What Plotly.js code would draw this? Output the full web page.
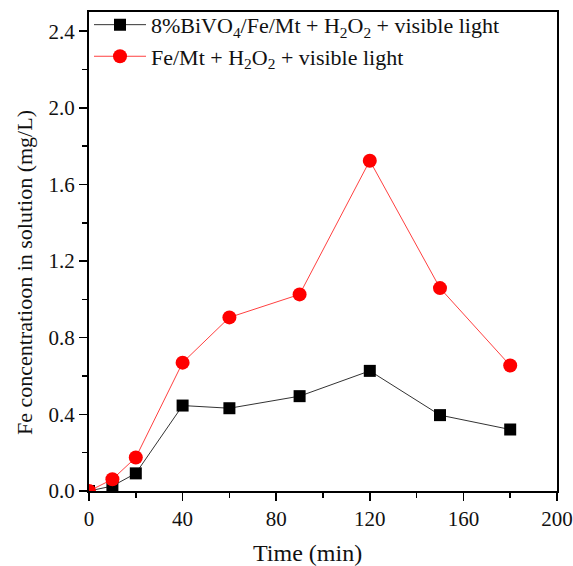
<!DOCTYPE html>
<html>
<head>
<meta charset="utf-8">
<script src="https://cdn.plot.ly/plotly-3.0.1.min.js"></script>
<style>html,body{margin:0;padding:0;background:#fff;}#chart{width:573px;height:566px;}</style>
</head>
<body>
<div id="chart"></div>
<script>
const timeMin = [0, 10, 20, 40, 60, 90, 120, 150, 180];
const bivoFe = [0.0, 0.026, 0.092, 0.446, 0.432, 0.495, 0.627, 0.396, 0.321];
const feMt = [0.0, 0.061, 0.175, 0.670, 0.906, 1.026, 1.724, 1.059, 0.655];
const seriesNames = [
  "8%BiVO<sub>4</sub>/Fe/Mt + H<sub>2</sub>O<sub>2</sub> + visible light",
  "Fe/Mt + H<sub>2</sub>O<sub>2</sub> + visible light"
];
const xTicks = [0, 40, 80, 120, 160, 200];
const yTicks = [0.0, 0.4, 0.8, 1.2, 1.6, 2.0, 2.4];
const xTitle = 'Time (min)';
const yTitle = 'Fe concentratioon in solution (mg/L)';

const font = "Liberation Serif, Times New Roman, serif";
const traces = [
  {x: timeMin, y: bivoFe, name: seriesNames[0], mode: 'lines+markers', cliponaxis: true,
   line: {color: '#333333', width: 1}, marker: {symbol: 'square', size: 12, color: '#000000'}},
  {x: timeMin, y: feMt, name: seriesNames[1], mode: 'lines+markers', cliponaxis: true,
   line: {color: '#ff4040', width: 1}, marker: {symbol: 'circle', size: 14, color: '#ff0000'}}
];
const layout = {
  width: 573, height: 566,
  margin: {l: 89, r: 16, t: 12, b: 75, autoexpand: false},
  paper_bgcolor: '#fff', plot_bgcolor: '#fff',
  font: {family: font, color: '#111', size: 20},
  showlegend: true,
  legend: {x: 0, y: 1.017, xanchor: 'left', yanchor: 'top', bgcolor: 'rgba(0,0,0,0)',
           font: {family: font, size: 22, color: '#111'}, tracegroupgap: 0, itemwidth: 52},
  xaxis: {range: [0, 200], tickvals: xTicks, ticktext: xTicks.map(String),
          ticks: 'outside', ticklen: 8, tickwidth: 1.5, tickcolor: '#000',
          minor: {dtick: 20, tick0: 0, ticks: 'outside', ticklen: 5, tickwidth: 1.5, tickcolor: '#000'},
          showline: true, linecolor: '#000', linewidth: 2, mirror: true, showgrid: false, zeroline: false,
          tickfont: {family: font, size: 21, color: '#111'}},
  yaxis: {range: [0, 2.5], tickvals: yTicks, ticktext: yTicks.map(v => v.toFixed(1)),
          ticks: 'outside', ticklen: 8, tickwidth: 1.5, tickcolor: '#000',
          minor: {dtick: 0.2, tick0: 0, ticks: 'outside', ticklen: 5, tickwidth: 1.5, tickcolor: '#000'},
          showline: true, linecolor: '#000', linewidth: 2, mirror: true, showgrid: false, zeroline: false,
          tickfont: {family: font, size: 21, color: '#111'}},
  annotations: [
    {text: xTitle, xref: 'paper', yref: 'paper', x: 0.466, y: 0, xanchor: 'center', yanchor: 'top',
     yshift: -47, showarrow: false, font: {family: font, size: 24, color: '#111'}},
    {text: yTitle, xref: 'paper', yref: 'paper', x: 0, y: 0.455, xanchor: 'center', yanchor: 'middle',
     xshift: -65, textangle: -90, showarrow: false, font: {family: font, size: 22, color: '#111'}}
  ]
};
Plotly.newPlot('chart', traces, layout, {staticPlot: true, displayModeBar: false});
</script>
</body>
</html>
